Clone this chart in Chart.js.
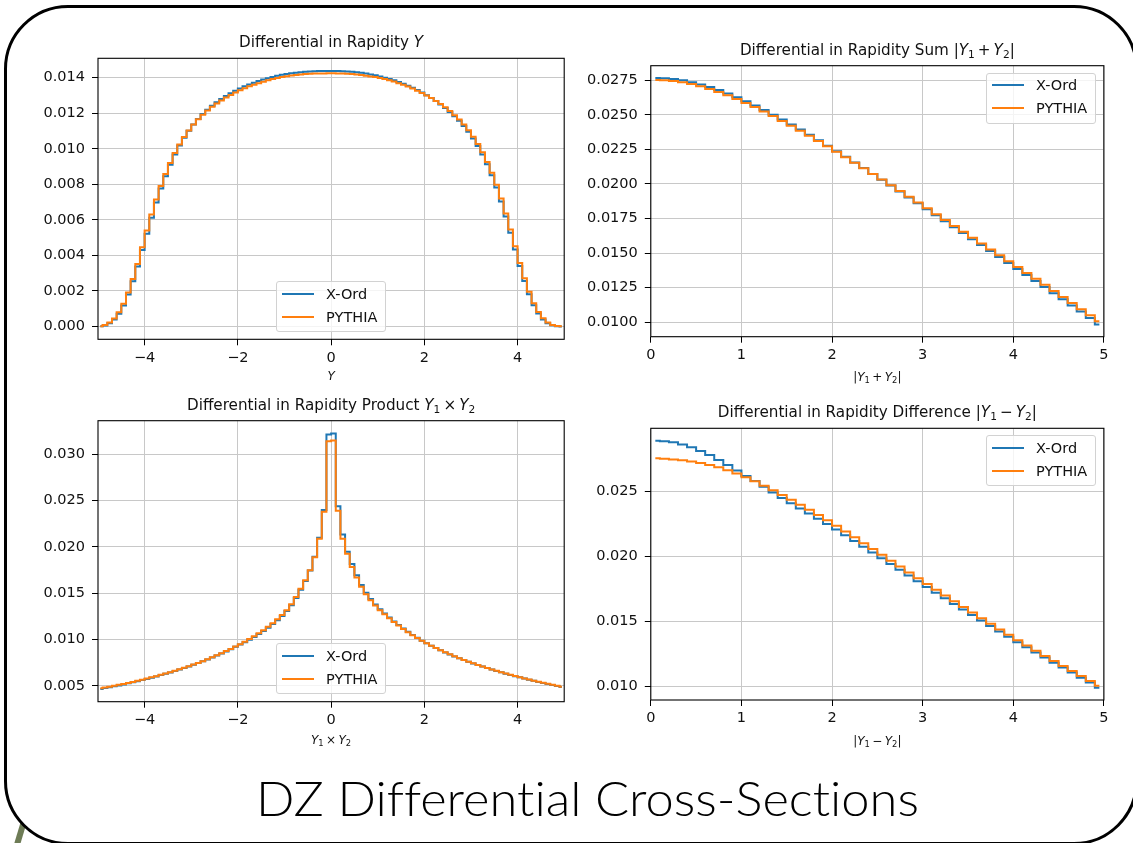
<!DOCTYPE html>
<html>
<head>
<meta charset="utf-8">
<title>DZ Differential Cross-Sections</title>
<script src="https://cdn.jsdelivr.net/npm/chart.js@4.4.1/dist/chart.umd.min.js"></script>
<style>
  html, body { margin: 0; padding: 0; background: #fff; }
  body { width: 1133px; height: 843px; position: relative; overflow: hidden; font-family: "DejaVu Sans", sans-serif; color: #111; }
  #deco { position: absolute; left: 0; top: 0; z-index: 0; }
  #frame { position: absolute; left: 4px; top: 5px; width: 1134px; height: 840px; box-sizing: border-box;
           border: 3px solid #000; border-radius: 64px; background: #fff; z-index: 1; }
  canvas { position: absolute; z-index: 2; }
  .ttl { position: absolute; z-index: 3; font-size: 15.2px; line-height: 18px; white-space: nowrap; transform: translateX(-50%); }
  .xl { position: absolute; z-index: 3; font-size: 12px; line-height: 14px; white-space: nowrap; transform: translateX(-50%); }
  .ttl i, .xl i { font-style: italic; }
  .ttl sub, .xl sub { font-size: 0.7em; vertical-align: -0.25em; line-height: 0; }
  .op { margin: 0 0.2em; }
  .lg { position: absolute; z-index: 3; box-sizing: border-box; background: rgba(255,255,255,0.8);
        border: 1px solid #d2d2d2; border-radius: 3px; }
  .lg .hd { position: absolute; height: 2px; }
  .lg .tx { position: absolute; font-size: 14.5px; line-height: 18px; white-space: nowrap; }
  #cap { position: absolute; left: 0; top: 0; z-index: 3; }
  #cap text { font-variant-ligatures: none; font-feature-settings: "liga" 0, "dlig" 0; }
</style>
</head>
<body>
<svg id="deco" width="1133" height="843">
  <line x1="16" y1="848" x2="31" y2="798" stroke="#6e7c56" stroke-width="6"/>
</svg>
<div id="frame"></div>
<svg id="cap" width="1133" height="843">
  <text x="256" y="816" textLength="663" lengthAdjust="spacingAndGlyphs"
        font-family="Lato, 'DejaVu Sans', sans-serif" font-weight="300" font-size="47" fill="#000">DZ Differential Cross-Sections</text>
</svg>
<script>
// ---- histogram bin centres ----
const centresFull = [
  -4.95,-4.85,-4.75,-4.65,-4.55,-4.45,-4.35,-4.25,-4.15,-4.05,
  -3.95,-3.85,-3.75,-3.65,-3.55,-3.45,-3.35,-3.25,-3.15,-3.05,
  -2.95,-2.85,-2.75,-2.65,-2.55,-2.45,-2.35,-2.25,-2.15,-2.05,
  -1.95,-1.85,-1.75,-1.65,-1.55,-1.45,-1.35,-1.25,-1.15,-1.05,
  -0.95,-0.85,-0.75,-0.65,-0.55,-0.45,-0.35,-0.25,-0.15,-0.05,
   0.05, 0.15, 0.25, 0.35, 0.45, 0.55, 0.65, 0.75, 0.85, 0.95,
   1.05, 1.15, 1.25, 1.35, 1.45, 1.55, 1.65, 1.75, 1.85, 1.95,
   2.05, 2.15, 2.25, 2.35, 2.45, 2.55, 2.65, 2.75, 2.85, 2.95,
   3.05, 3.15, 3.25, 3.35, 3.45, 3.55, 3.65, 3.75, 3.85, 3.95,
   4.05, 4.15, 4.25, 4.35, 4.45, 4.55, 4.65, 4.75, 4.85, 4.95
];
const centresHalf = [
  0.05, 0.15, 0.25, 0.35, 0.45, 0.55, 0.65, 0.75, 0.85, 0.95,
  1.05, 1.15, 1.25, 1.35, 1.45, 1.55, 1.65, 1.75, 1.85, 1.95,
  2.05, 2.15, 2.25, 2.35, 2.45, 2.55, 2.65, 2.75, 2.85, 2.95,
  3.05, 3.15, 3.25, 3.35, 3.45, 3.55, 3.65, 3.75, 3.85, 3.95,
  4.05, 4.15, 4.25, 4.35, 4.45, 4.55, 4.65, 4.75, 4.85, 4.95
];

// ---- rapidity Y ----
const rapXord = [
  0.00001,0.00006,0.00018,0.00040,0.00072,0.00118,0.00180,0.00254,0.00338,0.00430,
  0.00522,0.00612,0.00698,0.00776,0.00846,0.00910,0.00968,0.01018,0.01062,0.01101,
  0.01136,0.01167,0.01195,0.01220,0.01242,0.01262,0.01280,0.01297,0.01312,0.01326,
  0.01339,0.01351,0.01362,0.01372,0.01381,0.01389,0.01397,0.01404,0.01410,0.01416,
  0.01421,0.01425,0.01428,0.01431,0.01433,0.01435,0.01436,0.01437,0.01437,0.01437,
  0.01437,0.01437,0.01436,0.01435,0.01433,0.01430,0.01427,0.01423,0.01418,0.01413,
  0.01407,0.01400,0.01393,0.01385,0.01376,0.01366,0.01355,0.01343,0.01330,0.01316,
  0.01301,0.01285,0.01268,0.01249,0.01229,0.01207,0.01183,0.01157,0.01128,0.01095,
  0.01058,0.01016,0.00968,0.00913,0.00851,0.00782,0.00704,0.00619,0.00528,0.00434,
  0.00341,0.00256,0.00182,0.00120,0.00073,0.00040,0.00018,0.00007,0.00002,0.00000
];
const rapPythia = [
  0.00002,0.00008,0.00022,0.00045,0.00080,0.00128,0.00192,0.00268,0.00352,0.00446,
  0.00540,0.00630,0.00714,0.00790,0.00858,0.00920,0.00976,0.01024,0.01066,0.01103,
  0.01137,0.01166,0.01192,0.01215,0.01236,0.01255,0.01272,0.01288,0.01302,0.01316,
  0.01329,0.01340,0.01351,0.01360,0.01369,0.01377,0.01385,0.01392,0.01398,0.01404,
  0.01408,0.01412,0.01415,0.01418,0.01420,0.01422,0.01423,0.01424,0.01424,0.01425,
  0.01425,0.01424,0.01423,0.01422,0.01420,0.01418,0.01415,0.01411,0.01407,0.01403,
  0.01398,0.01392,0.01385,0.01378,0.01369,0.01360,0.01350,0.01339,0.01327,0.01314,
  0.01300,0.01285,0.01269,0.01252,0.01233,0.01212,0.01189,0.01164,0.01136,0.01104,
  0.01068,0.01027,0.00980,0.00926,0.00865,0.00797,0.00720,0.00636,0.00546,0.00452,
  0.00358,0.00272,0.00196,0.00131,0.00082,0.00046,0.00022,0.00009,0.00003,0.00001
];

// ---- rapidity sum |Y1 + Y2| ----
const sumXord = [
  0.02766,0.02764,0.02758,0.02749,0.02736,0.02720,0.02701,0.02679,0.02654,0.02627,
  0.02598,0.02567,0.02535,0.02501,0.02466,0.02430,0.02393,0.02355,0.02316,0.02277,
  0.02237,0.02197,0.02156,0.02115,0.02073,0.02031,0.01989,0.01946,0.01903,0.01860,
  0.01817,0.01774,0.01731,0.01688,0.01645,0.01601,0.01558,0.01515,0.01472,0.01428,
  0.01385,0.01342,0.01298,0.01255,0.01210,0.01166,0.01122,0.01078,0.01032,0.00985
];
const sumPythia = [
  0.02752,0.02750,0.02744,0.02735,0.02722,0.02706,0.02687,0.02665,0.02641,0.02614,
  0.02586,0.02556,0.02524,0.02491,0.02456,0.02421,0.02385,0.02348,0.02310,0.02272,
  0.02233,0.02194,0.02154,0.02114,0.02073,0.02032,0.01991,0.01950,0.01908,0.01866,
  0.01824,0.01782,0.01740,0.01697,0.01655,0.01612,0.01570,0.01527,0.01485,0.01442,
  0.01399,0.01357,0.01314,0.01271,0.01227,0.01183,0.01139,0.01095,0.01051,0.01008
];

// ---- rapidity product Y1 x Y2 ----
const prodXord = [
  0.00468,0.00477,0.00486,0.00496,0.00506,0.00517,0.00528,0.00540,0.00552,0.00564,
  0.00576,0.00589,0.00603,0.00617,0.00631,0.00646,0.00661,0.00677,0.00694,0.00711,
  0.00729,0.00747,0.00766,0.00786,0.00807,0.00828,0.00850,0.00873,0.00897,0.00922,
  0.00947,0.00973,0.01000,0.01029,0.01060,0.01093,0.01129,0.01168,0.01210,0.01256,
  0.01308,0.01372,0.01448,0.01538,0.01632,0.01745,0.01895,0.02100,0.02400,0.03215,
  0.03225,0.02440,0.02135,0.01948,0.01815,0.01695,0.01590,0.01505,0.01438,0.01380,
  0.01328,0.01282,0.01238,0.01197,0.01158,0.01120,0.01084,0.01050,0.01019,0.00989,
  0.00961,0.00934,0.00909,0.00885,0.00862,0.00840,0.00819,0.00799,0.00780,0.00761,
  0.00743,0.00726,0.00709,0.00693,0.00677,0.00662,0.00647,0.00633,0.00619,0.00606,
  0.00593,0.00580,0.00568,0.00556,0.00544,0.00533,0.00522,0.00511,0.00500,0.00490
];
const prodPythia = [
  0.00474,0.00483,0.00492,0.00502,0.00512,0.00522,0.00533,0.00544,0.00556,0.00568,
  0.00580,0.00593,0.00606,0.00620,0.00634,0.00649,0.00664,0.00680,0.00696,0.00713,
  0.00731,0.00749,0.00768,0.00788,0.00809,0.00831,0.00853,0.00876,0.00900,0.00925,
  0.00951,0.00978,0.01006,0.01036,0.01068,0.01102,0.01139,0.01178,0.01220,0.01266,
  0.01318,0.01382,0.01460,0.01550,0.01640,0.01750,0.01890,0.02090,0.02380,0.03140,
  0.03150,0.02390,0.02090,0.01928,0.01785,0.01670,0.01570,0.01490,0.01425,0.01368,
  0.01318,0.01273,0.01231,0.01191,0.01153,0.01116,0.01081,0.01048,0.01017,0.00988,
  0.00961,0.00935,0.00910,0.00886,0.00863,0.00841,0.00820,0.00800,0.00781,0.00762,
  0.00744,0.00727,0.00710,0.00694,0.00678,0.00663,0.00648,0.00634,0.00620,0.00607,
  0.00594,0.00581,0.00569,0.00557,0.00545,0.00534,0.00523,0.00512,0.00502,0.00492
];

// ---- rapidity difference |Y1 - Y2| ----
const diffXord = [
  0.02891,0.02887,0.02878,0.02862,0.02840,0.02812,0.02780,0.02743,0.02703,0.02662,
  0.02620,0.02580,0.02537,0.02493,0.02450,0.02410,0.02370,0.02330,0.02290,0.02250,
  0.02208,0.02164,0.02120,0.02076,0.02031,0.01987,0.01942,0.01898,0.01854,0.01810,
  0.01766,0.01722,0.01679,0.01636,0.01593,0.01550,0.01508,0.01466,0.01424,0.01383,
  0.01342,0.01302,0.01262,0.01223,0.01184,0.01146,0.01108,0.01069,0.01031,0.00992
];
const diffPythia = [
  0.02755,0.02752,0.02747,0.02740,0.02731,0.02719,0.02704,0.02686,0.02664,0.02638,
  0.02609,0.02578,0.02545,0.02510,0.02474,0.02437,0.02399,0.02360,0.02320,0.02279,
  0.02236,0.02192,0.02148,0.02103,0.02058,0.02013,0.01968,0.01923,0.01878,0.01833,
  0.01789,0.01745,0.01701,0.01657,0.01613,0.01569,0.01526,0.01483,0.01440,0.01398,
  0.01357,0.01316,0.01276,0.01236,0.01197,0.01158,0.01120,0.01082,0.01044,0.01006
];

// ---- tick labels ----
const xTicksFull = [-4, -2, 0, 2, 4];
const xTicksHalf = [0, 1, 2, 3, 4, 5];
const yTicksRap  = [0.000, 0.002, 0.004, 0.006, 0.008, 0.010, 0.012, 0.014];
const yTicksSum  = [0.0100, 0.0125, 0.0150, 0.0175, 0.0200, 0.0225, 0.0250, 0.0275];
const yTicksProd = [0.005, 0.010, 0.015, 0.020, 0.025, 0.030];
const yTicksDiff = [0.010, 0.015, 0.020, 0.025];

const seriesNames = ['X-Ord', 'PYTHIA'];
const seriesColours = ['#1f77b4', '#ff7f0e'];

// ---- panel layout (canvas box and plot area, page pixels) ----
const panels = [
  { box: [0, 0, 600, 392],   area: [98, 58.3, 564.2, 339.3],   xs: centresFull, a: rapXord,  b: rapPythia,
    xr: [-5, 5], xt: xTicksFull, yt: yTicksRap,  dec: 3, legend: 'lower center', labelTop: 369,
    title: 'Differential in Rapidity <i>Y</i>', xlabel: '<i>Y</i>' },
  { box: [566, 0, 567, 392], area: [650.8, 65.7, 1103.9, 336.7], xs: centresHalf, a: sumXord, b: sumPythia,
    xr: [0, 5], xt: xTicksHalf, yt: yTicksSum, dec: 4, legend: 'upper right', labelTop: 370,
    title: 'Differential in Rapidity Sum |<i>Y</i><sub>1</sub><span class="op">+</span><i>Y</i><sub>2</sub>|',
    xlabel: '|<i>Y</i><sub>1</sub><span class="op">+</span><i>Y</i><sub>2</sub>|' },
  { box: [0, 392, 600, 380], area: [98, 420.7, 564.2, 701.7],   xs: centresFull, a: prodXord, b: prodPythia,
    xr: [-5, 5], xt: xTicksFull, yt: yTicksProd, dec: 3, legend: 'lower center', labelTop: 733,
    title: 'Differential in Rapidity Product <i>Y</i><sub>1</sub><span class="op">\u00d7</span><i>Y</i><sub>2</sub>',
    xlabel: '<i>Y</i><sub>1</sub><span class="op">\u00d7</span><i>Y</i><sub>2</sub>' },
  { box: [566, 392, 567, 380], area: [650.8, 428.3, 1103.9, 700], xs: centresHalf, a: diffXord, b: diffPythia,
    xr: [0, 5], xt: xTicksHalf, yt: yTicksDiff, dec: 3, legend: 'upper right', labelTop: 734,
    title: 'Differential in Rapidity Difference |<i>Y</i><sub>1</sub><span class="op">\u2212</span><i>Y</i><sub>2</sub>|',
    xlabel: '|<i>Y</i><sub>1</sub><span class="op">\u2212</span><i>Y</i><sub>2</sub>|' }
];

// black spine box around each plot area
const spineBox = {
  id: 'spineBox',
  afterDatasetsDraw(chart) {
    const { ctx, chartArea: c } = chart;
    ctx.save();
    ctx.strokeStyle = '#000';
    ctx.lineWidth = 1.1;
    ctx.strokeRect(c.left, c.top, c.right - c.left, c.bottom - c.top);
    ctx.restore();
  }
};

const tickFont = { family: "'DejaVu Sans', sans-serif", size: 14.5 };
const fmtX = v => (v < 0 ? '\u2212' + Math.abs(v) : String(v));

function addDiv(cls, html, left, top) {
  const d = document.createElement('div');
  d.className = cls;
  d.innerHTML = html;
  d.style.left = left + 'px';
  d.style.top = top + 'px';
  document.body.appendChild(d);
  return d;
}

function addLegend(p) {
  const [L, T, R, B] = p.area;
  const w = 110, h = 51;
  let left, top;
  if (p.legend === 'lower center') { left = (L + R) / 2 - w / 2; top = B - 7.3 - h; }
  else { left = R - 7.9 - w; top = T + 7; }
  const lg = document.createElement('div');
  lg.className = 'lg';
  Object.assign(lg.style, { left: left + 'px', top: top + 'px', width: w + 'px', height: h + 'px' });
  seriesNames.forEach((name, i) => {
    const cy = 11.5 + i * 23;
    const hd = document.createElement('div');
    hd.className = 'hd';
    Object.assign(hd.style, { left: '4.6px', top: (cy - 1) + 'px', width: '32.5px', background: seriesColours[i] });
    const tx = document.createElement('div');
    tx.className = 'tx';
    tx.textContent = name;
    Object.assign(tx.style, { left: '49px', top: (cy - 9) + 'px' });
    lg.appendChild(hd);
    lg.appendChild(tx);
  });
  document.body.appendChild(lg);
}

panels.forEach(p => {
  const [bx, by, bw, bh] = p.box;
  const [L, T, R, B] = p.area;
  const cv = document.createElement('canvas');
  cv.width = bw; cv.height = bh;
  cv.style.left = bx + 'px'; cv.style.top = by + 'px';
  cv.style.width = bw + 'px'; cv.style.height = bh + 'px';
  document.body.appendChild(cv);

  const all = p.a.concat(p.b);
  const lo = Math.min(...all), hi = Math.max(...all);
  const m = 0.05 * (hi - lo);

  const yAxisW = L - bx;
  const xAxisH = (by + bh) - B;

  new Chart(cv, {
    type: 'line',
    data: {
      datasets: [
        { label: seriesNames[0], data: p.xs.map((x, i) => ({ x, y: p.a[i] })), borderColor: seriesColours[0],
          borderWidth: 2, pointRadius: 0, stepped: 'middle', fill: false, order: 1 },
        { label: seriesNames[1], data: p.xs.map((x, i) => ({ x, y: p.b[i] })), borderColor: seriesColours[1],
          borderWidth: 2, pointRadius: 0, stepped: 'middle', fill: false, order: 0 }
      ]
    },
    options: {
      responsive: false,
      animation: false,
      devicePixelRatio: 1,
      events: [],
      layout: { padding: { left: 0, top: T - by, right: (bx + bw) - R, bottom: 0 } },
      plugins: { legend: { display: false }, tooltip: { enabled: false }, title: { display: false } },
      scales: {
        x: {
          type: 'linear', min: p.xr[0], max: p.xr[1],
          afterBuildTicks: ax => { ax.ticks = p.xt.map(v => ({ value: v })); },
          afterFit: s => { s.height = xAxisH; },
          border: { display: false },
          grid: { color: '#c8c8c8', lineWidth: 1, tickLength: 6, tickColor: '#000', tickWidth: 1 },
          ticks: { autoSkip: false, maxRotation: 0, minRotation: 0, padding: 4, color: '#111', font: tickFont,
                   callback: v => fmtX(v) }
        },
        y: {
          type: 'linear', min: lo - m, max: hi + m,
          afterBuildTicks: ax => { ax.ticks = p.yt.map(v => ({ value: v })); },
          afterFit: s => { s.width = yAxisW; },
          border: { display: false },
          grid: { color: '#c8c8c8', lineWidth: 1, tickLength: 6, tickColor: '#000', tickWidth: 1 },
          ticks: { autoSkip: false, padding: 7, color: '#111', font: tickFont,
                   callback: v => v.toFixed(p.dec) }
        }
      }
    },
    plugins: [spineBox]
  });

  addDiv('ttl', p.title, (L + R) / 2, T - 25);
  addDiv('xl', p.xlabel, (L + R) / 2, p.labelTop);
  addLegend(p);
});
</script>
</body>
</html>
